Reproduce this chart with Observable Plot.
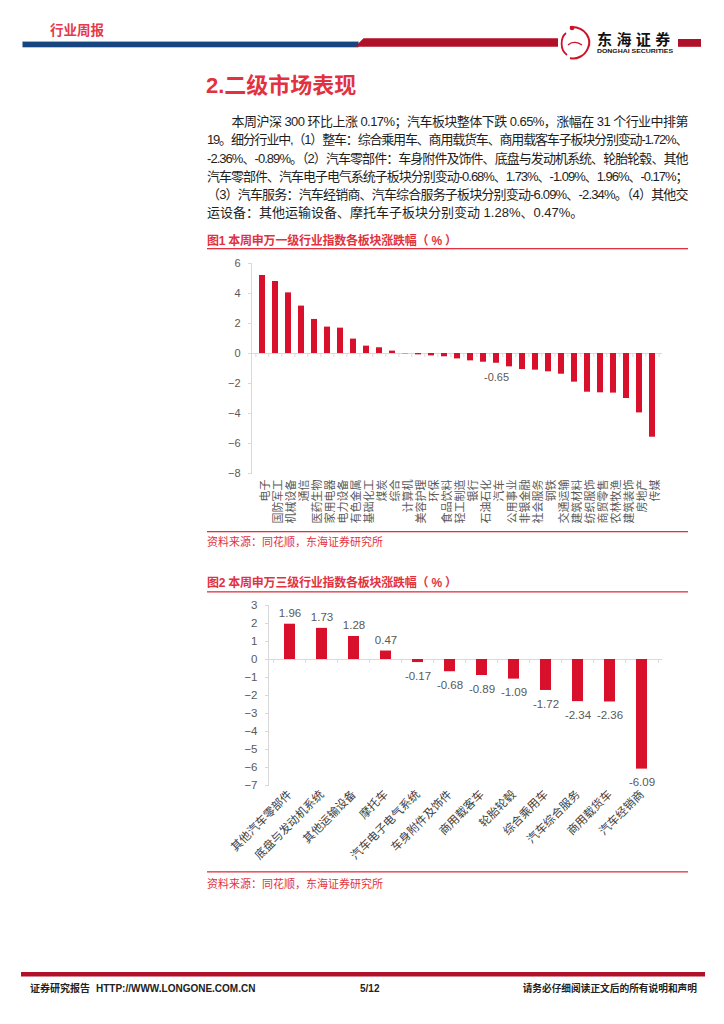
<!DOCTYPE html>
<html>
<head>
<meta charset="utf-8">
<script src="https://cdn.jsdelivr.net/npm/d3@7"></script>
<script src="https://cdn.jsdelivr.net/npm/@observablehq/plot@0.6"></script>
<style>
  html, body { margin: 0; padding: 0; background: #fff; }
  body { width: 724px; height: 1024px; position: relative; overflow: hidden;
         font-family: "Liberation Sans", Arial, "Noto Sans CJK SC", sans-serif; }
  #page { position: absolute; left: 0; top: 0; }
  .chart { position: absolute; }
</style>
</head>
<body>
<svg id="page" width="724" height="1024" xmlns="http://www.w3.org/2000/svg"
     font-family='"Liberation Sans", Arial, "Noto Sans CJK SC", sans-serif'></svg>
<div id="chart1" class="chart" style="left:200px; top:255px;"></div>
<div id="chart2" class="chart" style="left:200px; top:595px;"></div>
<script>
// ---------- data ----------
const industries = ["电子","国防军工","机械设备","通信","医药生物","家用电器","电力设备","有色金属","基础化工","煤炭","综合","计算机","美容护理","环保","食品饮料","轻工制造","银行","石油石化","汽车","公用事业","非银金融","社会服务","钢铁","交通运输","建筑材料","纺织服饰","商贸零售","农林牧渔","建筑装饰","房地产","传媒"];
const industryChange = [5.20,4.80,4.04,3.16,2.27,1.76,1.69,0.96,0.49,0.38,0.16,-0.02,-0.09,-0.16,-0.22,-0.36,-0.49,-0.58,-0.65,-0.89,-1.07,-1.11,-1.22,-1.38,-1.91,-2.58,-2.62,-2.64,-3.00,-3.96,-5.58];
const labelledIndustry = "汽车";
const yTicks1 = [-8,-6,-4,-2,0,2,4,6];

const subIndustries = ["其他汽车零部件","底盘与发动机系统","其他运输设备","摩托车","汽车电子电气系统","车身附件及饰件","商用载客车","轮胎轮毂","综合乘用车","汽车综合服务","商用载货车","汽车经销商"];
const subChange = [1.96,1.73,1.28,0.47,-0.17,-0.68,-0.89,-1.09,-1.72,-2.34,-2.36,-6.09];
const yTicks2 = [-7,-6,-5,-4,-3,-2,-1,0,1,2,3];

const headerTag = "行业周报";
const sectionTitle = "2.二级市场表现";
const paragraphLines = [
  "本周沪深 300 环比上涨 0.17%；汽车板块整体下跌 0.65%，涨幅在 31 个行业中排第",
  "19。细分行业中,（1）整车：综合乘用车、商用载货车、商用载客车子板块分别变动-1.72%、",
  "-2.36%、-0.89%。（2）汽车零部件：车身附件及饰件、底盘与发动机系统、轮胎轮毂、其他",
  "汽车零部件、汽车电子电气系统子板块分别变动-0.68%、1.73%、-1.09%、1.96%、-0.17%；",
  "（3）汽车服务：汽车经销商、汽车综合服务子板块分别变动-6.09%、-2.34%。（4）其他交",
  "运设备：其他运输设备、摩托车子板块分别变动 1.28%、0.47%。"
];
const fig1Title = "图1  本周申万一级行业指数各板块涨跌幅（ % ）";
const fig2Title = "图2  本周申万三级行业指数各板块涨跌幅（ % ）";
const sourceText = "资料来源：同花顺，东海证券研究所";
const footerLeft = "证券研究报告";
const footerUrl = "HTTP://WWW.LONGONE.COM.CN";
const footerPage = "5/12";
const footerRight = "请务必仔细阅读正文后的所有说明和声明";

const data1 = industries.map((name, i) => ({name, value: industryChange[i]}));
const data2 = subIndustries.map((name, i) => ({name, value: subChange[i]}));

const RED = "#d8102b";
const TITLE_RED = "#e23240";
const AXIS = "#d9d9d9";
const TICKTXT = "#595959";
const FONT = '"Liberation Sans", Arial, "Noto Sans CJK SC", sans-serif';

// ---------- page decoration & text ----------
const NS = "http://www.w3.org/2000/svg";
const page = document.getElementById("page");
function el(tag, attrs, text) {
  const e = document.createElementNS(NS, tag);
  for (const k in attrs) e.setAttribute(k, attrs[k]);
  if (text != null) e.textContent = text;
  page.appendChild(e);
  return e;
}
// header
el("text", {x: 50, y: 34.5, "font-size": 13.5, "font-weight": "bold", fill: "#e5394c"}, headerTag);
el("rect", {x: 22.5, y: 41.5, width: 336, height: 5.8, fill: "#17457f"});
el("rect", {x: 22.5, y: 41.2, width: 336, height: 0.8, fill: "#9fb6d6"});
el("polygon", {points: "355,46.8 363.5,38.3 558,38.3 558,46.8", fill: "#b01028"});
el("rect", {x: 678, y: 39, width: 23, height: 7.8, fill: "#b01028"});
// dragon-like emblem
el("path", {d: "M570 27 C 586 26, 592 40, 588 48 C 585 56, 576 60, 570 58", fill: "none", stroke: "#cf1127", "stroke-width": 2});
el("path", {d: "M566 33 C 560 38, 560 50, 567 55", fill: "none", stroke: "#cf1127", "stroke-width": 1.8});
el("path", {d: "M568 45 C 572 41, 578 42, 582 45", fill: "none", stroke: "#cf1127", "stroke-width": 1.4});
el("circle", {cx: 572, cy: 28, r: 2.3, fill: "#cf1127"});
el("text", {x: 597, y: 45, "font-size": 15, "font-weight": "bold", fill: "#111", "letter-spacing": 4.4,
            "font-family": '"Noto Sans CJK SC", sans-serif'}, "东海证券");
el("text", {x: 597, y: 53.3, "font-size": 6, "font-weight": "bold", fill: "#111", textLength: 76, lengthAdjust: "spacingAndGlyphs"}, "DONGHAI SECURITIES");

// section title
el("text", {x: 206, y: 93, "font-size": 22, "font-weight": "bold", fill: TITLE_RED}, sectionTitle);

// paragraph
const lineBase = [126.3, 144.4, 162.5, 180.6, 198.7, 216.8];
paragraphLines.forEach((t, i) => {
  const x = i === 0 ? 231.5 : 207;
  const attrs = {x, y: lineBase[i], "font-size": 13, fill: "#1e1e1e"};
  if (i < paragraphLines.length - 1) { attrs.textLength = 688.5 - x; attrs.lengthAdjust = "spacing"; }
  el("text", attrs, t);
});

// figure titles / rules / sources
el("text", {x: 207, y: 244.5, "font-size": 12, "font-weight": "bold", fill: TITLE_RED, textLength: 250, lengthAdjust: "spacing"}, fig1Title);
el("rect", {x: 207, y: 248, width: 481, height: 1.3, fill: TITLE_RED});
el("rect", {x: 207, y: 531, width: 481, height: 1.3, fill: TITLE_RED});
el("text", {x: 207, y: 545.5, "font-size": 11, fill: TITLE_RED}, sourceText);

el("text", {x: 207, y: 587, "font-size": 12, "font-weight": "bold", fill: TITLE_RED, textLength: 250, lengthAdjust: "spacing"}, fig2Title);
el("rect", {x: 207, y: 591.2, width: 481, height: 1.3, fill: TITLE_RED});
el("rect", {x: 207, y: 871.2, width: 481, height: 1.3, fill: TITLE_RED});
el("text", {x: 207, y: 887.5, "font-size": 11, fill: TITLE_RED}, sourceText);

// footer
el("rect", {x: 21, y: 972, width: 684, height: 4.5, fill: "#b01028"});
el("text", {x: 30, y: 992, "font-size": 10, "font-weight": "bold", fill: "#222"}, footerLeft);
el("text", {x: 96, y: 992, "font-size": 10, "font-weight": "bold", fill: "#222"}, footerUrl);
el("text", {x: 360, y: 992, "font-size": 10, "font-weight": "bold", fill: "#222"}, footerPage);
el("text", {x: 697, y: 992, "font-size": 9.7, "font-weight": "bold", fill: "#222", "text-anchor": "end"}, footerRight);

// ---------- chart 1 ----------
const w1 = 480, h1 = 275, ml1 = 51, mr1 = 18, mt1 = 8, mb1 = 57, pad1 = 0.57;
const step1 = (w1 - ml1 - mr1) / industries.length;
const chart1 = Plot.plot({
  width: w1, height: h1,
  marginLeft: ml1, marginRight: mr1, marginTop: mt1, marginBottom: mb1,
  style: {fontFamily: FONT, background: "transparent", overflow: "visible"},
  x: {domain: industries, paddingInner: pad1, paddingOuter: pad1 / 2},
  y: {domain: [-8, 6]},
  marks: [
    Plot.frame({anchor: "left", stroke: AXIS}),
    Plot.axisY({ticks: yTicks1, tickSize: 3, tickPadding: 8, stroke: AXIS, fill: TICKTXT, fontSize: 11, label: null}),
    Plot.ruleY([0], {stroke: AXIS}),
    Plot.ruleX(industries, {x: d => d, dx: -step1 / 2, y1: 0, y2: -0.27, stroke: AXIS}),
    Plot.ruleX(industries.slice(-1), {x: d => d, dx: step1 / 2, y1: 0, y2: -0.27, stroke: AXIS}),
    Plot.barY(data1, {x: "name", y: "value", fill: RED}),
    Plot.text(data1.filter(d => d.name === labelledIndustry),
      {x: "name", y: "value", text: d => d.value.toFixed(2), dy: 14, fill: TICKTXT, fontSize: 11}),
    Plot.axisX({anchor: "bottom", tickSize: 0, tickPadding: 6, tickRotate: -90, fill: TICKTXT, fontSize: 11, label: null, dx: 3})
  ]
});
document.getElementById("chart1").appendChild(chart1);

// ---------- chart 2 ----------
const w2 = 480, h2 = 273, ml2 = 68, mr2 = 18, mt2 = 10, mb2 = 83, pad2 = 0.67;
const step2 = (w2 - ml2 - mr2) / subIndustries.length;
const chart2 = Plot.plot({
  width: w2, height: h2,
  marginLeft: ml2, marginRight: mr2, marginTop: mt2, marginBottom: mb2,
  style: {fontFamily: FONT, background: "transparent", overflow: "visible"},
  x: {domain: subIndustries, paddingInner: pad2, paddingOuter: pad2 / 2},
  y: {domain: [-7, 3]},
  marks: [
    Plot.frame({anchor: "left", stroke: AXIS}),
    Plot.axisY({ticks: yTicks2, tickSize: 3, tickPadding: 8, stroke: AXIS, fill: TICKTXT, fontSize: 11.5, label: null}),
    Plot.ruleY([0], {stroke: AXIS}),
    Plot.ruleX(subIndustries, {x: d => d, dx: -step2 / 2, y1: 0, y2: -0.22, stroke: AXIS}),
    Plot.ruleX(subIndustries.slice(-1), {x: d => d, dx: step2 / 2, y1: 0, y2: -0.22, stroke: AXIS}),
    Plot.barY(data2, {x: "name", y: "value", fill: RED}),
    Plot.text(data2.filter(d => d.value >= 0),
      {x: "name", y: "value", text: d => d.value.toFixed(2), dy: -11, fill: TICKTXT, fontSize: 11.5}),
    Plot.text(data2.filter(d => d.value < 0),
      {x: "name", y: "value", text: d => d.value.toFixed(2), dy: 13.5, fill: TICKTXT, fontSize: 11.5}),
    Plot.axisX({anchor: "bottom", tickSize: 0, tickPadding: 7, tickRotate: -45, fill: "#404040", fontSize: 11.5, label: null})
  ]
});
document.getElementById("chart2").appendChild(chart2);
</script>
</body>
</html>
